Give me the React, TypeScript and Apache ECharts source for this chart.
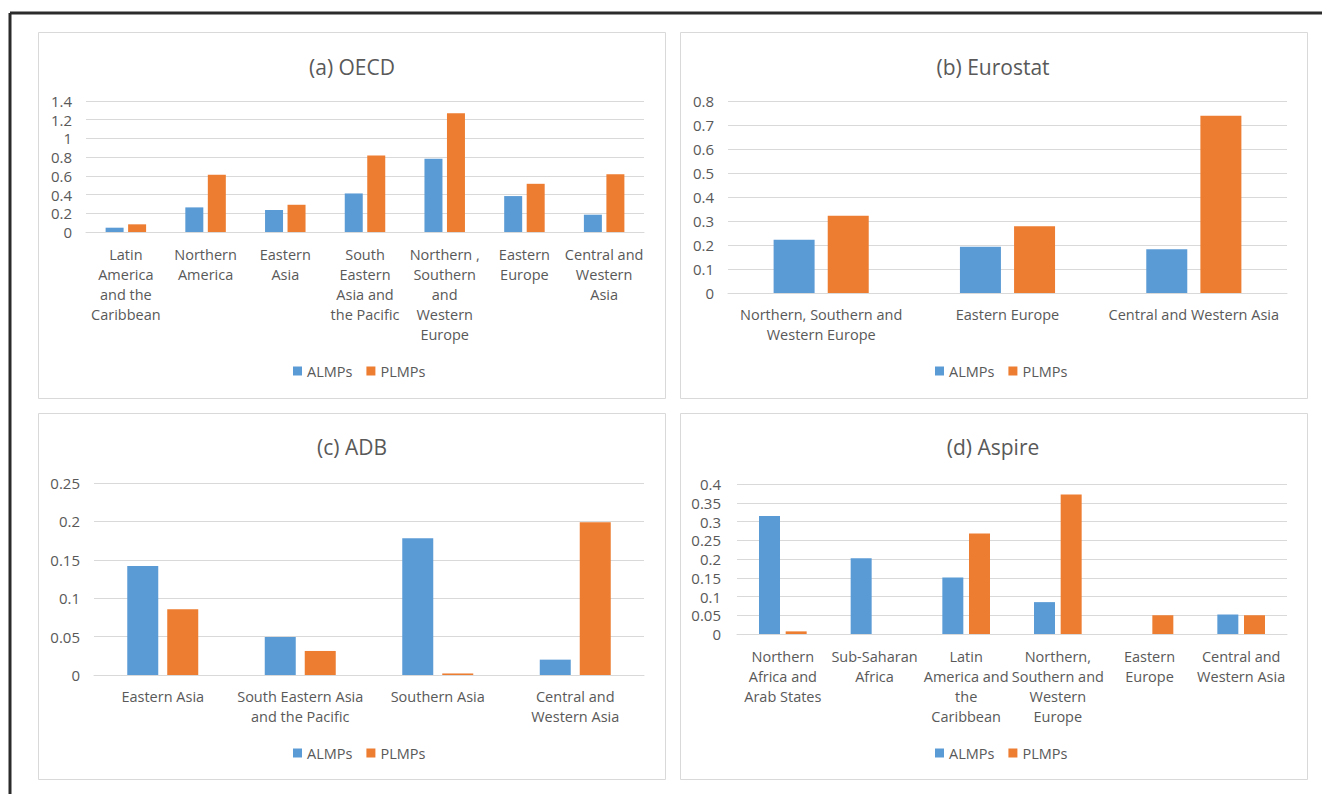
import React, { useEffect, useRef } from "react";
import * as echarts from "echarts";

// ---------- DATA ----------
const seriesNames = ["ALMPs", "PLMPs"];

const oecdCategories = [
  "Latin\nAmerica\nand the\nCaribbean",
  "Northern\nAmerica",
  "Eastern\nAsia",
  "South\nEastern\nAsia and\nthe Pacific",
  "Northern ,\nSouthern\nand\nWestern\nEurope",
  "Eastern\nEurope",
  "Central and\nWestern\nAsia",
];
const oecdALMPs = [0.046, 0.263, 0.235, 0.412, 0.782, 0.384, 0.185];
const oecdPLMPs = [0.082, 0.611, 0.291, 0.817, 1.269, 0.515, 0.618];

const eurostatCategories = [
  "Northern, Southern and\nWestern Europe",
  "Eastern Europe",
  "Central and Western Asia",
];
const eurostatALMPs = [0.222, 0.193, 0.182];
const eurostatPLMPs = [0.322, 0.278, 0.739];

const adbCategories = [
  "Eastern Asia",
  "South Eastern Asia\nand the Pacific",
  "Southern Asia",
  "Central and\nWestern Asia",
];
const adbALMPs = [0.142, 0.0496, 0.178, 0.02];
const adbPLMPs = [0.0857, 0.0313, 0.002, 0.199];

const aspireCategories = [
  "Northern\nAfrica and\nArab States",
  "Sub-Saharan\nAfrica",
  "Latin\nAmerica and\nthe\nCaribbean",
  "Northern,\nSouthern and\nWestern\nEurope",
  "Eastern\nEurope",
  "Central and\nWestern Asia",
];
const aspireALMPs = [0.315, 0.202, 0.151, 0.085, 0, 0.052];
const aspirePLMPs = [0.007, 0, 0.268, 0.372, 0.05, 0.05];

const panelTitles = ["(a) OECD", "(b) Eurostat", "(c) ADB", "(d) Aspire"];
const yMax = [1.4, 0.8, 0.25, 0.4];
const yInterval = [0.2, 0.1, 0.05, 0.05];

// ---------- STYLE / LAYOUT ----------
const FONT = "'Open Sans', 'Noto Sans', sans-serif";
const TEXT = "#595959";
const GRIDC = "#d9d9d9";
const BLUE = "#5b9bd5";
const ORANGE = "#ed7d31";

const panels = [
  {
    cats: oecdCategories, a: oecdALMPs, p: oecdPLMPs,
    box: [38, 32, 627, 366], titleXY: [352, 67],
    grid: { left: 86, right: 678, top: 101, bottom: 562 },
    barWidth: 18, barGap: "25%", legend: [288, 358], labelMargin: 12, yMargin: 14,
  },
  {
    cats: eurostatCategories, a: eurostatALMPs, p: eurostatPLMPs,
    box: [680, 32, 627, 366], titleXY: [993, 67],
    grid: { left: 728, right: 35, top: 101, bottom: 501 },
    barWidth: 41, barGap: "32%", legend: [930, 358], labelMargin: 11, yMargin: 14,
  },
  {
    cats: adbCategories, a: adbALMPs, p: adbPLMPs,
    box: [38, 413, 627, 366], titleXY: [352, 447],
    grid: { left: 94, right: 678, top: 483, bottom: 119 },
    barWidth: 31, barGap: "29%", legend: [288, 740], labelMargin: 11, yMargin: 14,
  },
  {
    cats: aspireCategories, a: aspireALMPs, p: aspirePLMPs,
    box: [680, 413, 627, 366], titleXY: [993, 447],
    grid: { left: 737, right: 35, top: 484, bottom: 160 },
    barWidth: 21, barGap: "27%", legend: [930, 740], labelMargin: 12, yMargin: 16,
  },
];

function buildOption() {
  const grid: any[] = [];
  const xAxis: any[] = [];
  const yAxis: any[] = [];
  const series: any[] = [];
  const legend: any[] = [];
  const graphic: any[] = [];

  // outer frame (top and left)
  graphic.push({
    type: "line", shape: { x1: 10, y1: 13, x2: 1322, y2: 13 },
    style: { stroke: "#2b2b2b", lineWidth: 3 }, silent: true,
  });
  graphic.push({
    type: "line", shape: { x1: 10, y1: 13, x2: 10, y2: 794 },
    style: { stroke: "#2b2b2b", lineWidth: 3 }, silent: true,
  });

  panels.forEach((pn, i) => {
    graphic.push({
      type: "rect",
      shape: { x: pn.box[0] + 0.5, y: pn.box[1] + 0.5, width: pn.box[2], height: pn.box[3] },
      style: { fill: "none", stroke: GRIDC, lineWidth: 1 },
      silent: true,
    });
    graphic.push({
      type: "text",
      x: pn.titleXY[0], y: pn.titleXY[1],
      style: {
        text: panelTitles[i], fill: TEXT, font: `21px ${FONT}`,
        textAlign: "center", textVerticalAlign: "middle",
      },
      silent: true,
    });
    grid.push({ ...pn.grid, containLabel: false });
    xAxis.push({
      type: "category", gridIndex: i, data: pn.cats,
      axisLine: { show: true, lineStyle: { color: GRIDC, width: 1 } },
      axisTick: { show: false },
      axisLabel: {
        interval: 0, color: TEXT, fontFamily: FONT, fontSize: 14.5,
        lineHeight: 20, margin: pn.labelMargin,
      },
      splitLine: { show: false },
    });
    yAxis.push({
      type: "value", gridIndex: i, min: 0, max: yMax[i], interval: yInterval[i],
      axisLine: { show: false }, axisTick: { show: false },
      splitLine: { lineStyle: { color: GRIDC, width: 1 } },
      axisLabel: {
        color: TEXT, fontFamily: FONT, fontSize: 15, margin: pn.yMargin,
        formatter: (v: number) => String(+v.toFixed(2)),
      },
    });
    series.push({
      type: "bar", name: seriesNames[0], xAxisIndex: i, yAxisIndex: i,
      data: pn.a, barWidth: pn.barWidth, barGap: pn.barGap,
      itemStyle: { color: BLUE }, silent: true,
    });
    series.push({
      type: "bar", name: seriesNames[1], xAxisIndex: i, yAxisIndex: i,
      data: pn.p, barWidth: pn.barWidth, barGap: pn.barGap,
      itemStyle: { color: ORANGE }, silent: true,
    });
    legend.push({
      data: seriesNames, left: pn.legend[0], top: pn.legend[1],
      icon: "rect", itemWidth: 9, itemHeight: 9, itemGap: 14,
      selectedMode: false,
      textStyle: { color: TEXT, fontFamily: FONT, fontSize: 14.5, lineHeight: 16 },
    });
  });

  return {
    animation: false,
    backgroundColor: "#ffffff",
    grid, xAxis, yAxis, series, legend, graphic,
  };
}

export default function App() {
  const ref = useRef<HTMLDivElement>(null);
  useEffect(() => {
    const chart = echarts.init(ref.current!, null, { renderer: "svg" });
    chart.setOption(buildOption() as any);
    return () => chart.dispose();
  }, []);
  return (
    <div
      ref={ref}
      style={{ position: "absolute", left: 0, top: 0, width: 1322, height: 794, background: "#fff" }}
    />
  );
}
